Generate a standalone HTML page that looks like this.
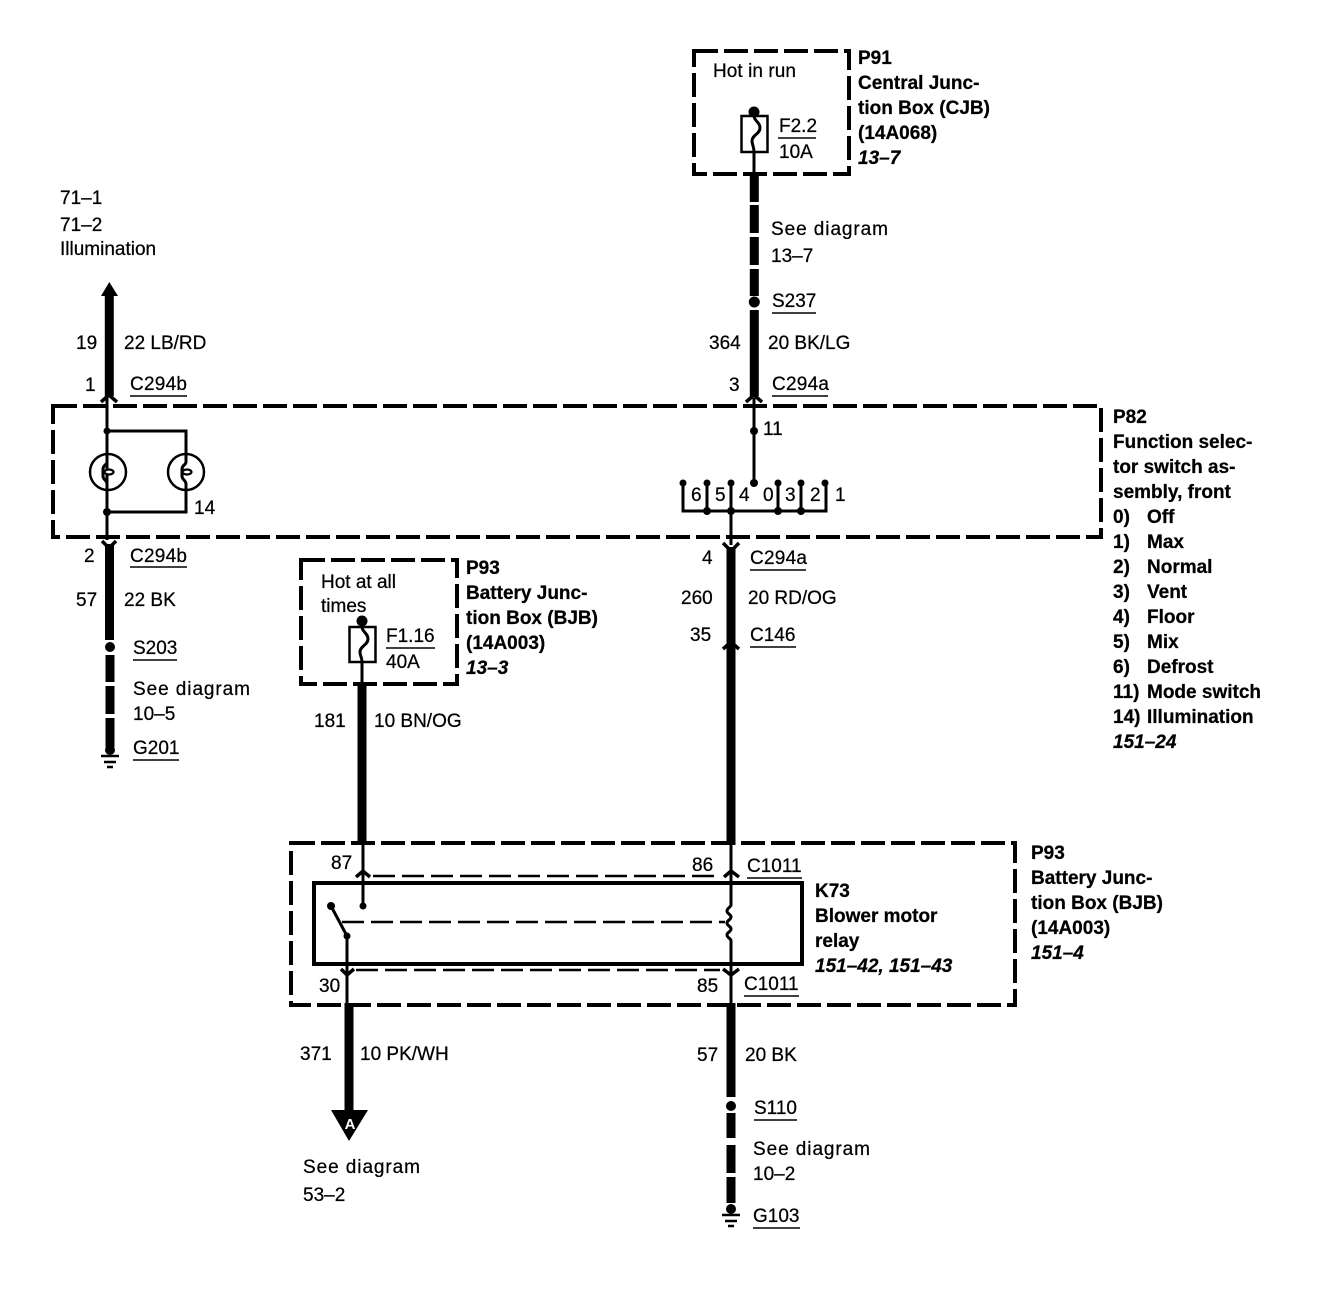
<!DOCTYPE html>
<html><head><meta charset="utf-8"><style>
html,body{margin:0;padding:0;background:#fff}
svg{display:block}
text{font-family:"Liberation Sans",sans-serif;font-size:19px;fill:#000;stroke:#000;stroke-width:.25}
.b text,text.b{font-weight:bold;font-size:19px}
.i{font-style:italic;font-weight:bold;font-size:19px}
.box{fill:none;stroke:#000;stroke-width:4;stroke-dasharray:24 6}
.w{stroke:#000;stroke-width:3;fill:none}
.c{stroke:#000;stroke-width:3.5;fill:none}
.t{stroke:#000;stroke-width:9;fill:none}
.u{stroke:#000;stroke-width:1.5}
.d{stroke:#000;stroke-width:2.5;stroke-dasharray:22 7;fill:none}
</style></head><body>
<svg width="1326" height="1312" viewBox="0 0 1326 1312" xmlns="http://www.w3.org/2000/svg">
<rect width="1326" height="1312" fill="#fff"/>
<!-- boxes -->
<rect class="box" x="694" y="51" width="155" height="123"/>
<rect class="box" x="53" y="406" width="1048" height="131"/>
<rect class="box" x="301" y="560" width="156" height="124"/>
<rect class="box" x="291" y="843" width="724" height="162"/>
<rect x="314" y="883" width="488" height="81" fill="none" stroke="#000" stroke-width="4"/>
<!-- top wire -->
<circle cx="754" cy="112" r="5.5"/>
<rect x="741.5" y="116" width="26" height="36" fill="#fff" stroke="#000" stroke-width="2.5"/>
<path class="w" d="M754 116c0 5 6 6 6 12s-8 7-8 13c0 4 2 5 2 11"/>
<path class="w" d="M754 152V175"/>
<path class="t" d="M754.300 172V202M754.300 205V233M754.300 237V265M754.300 269V296"/>
<circle cx="754.300" cy="302" r="5.500"/>
<path class="t" d="M754.300 310V396"/>
<path class="c" d="M746 402L754 395L762 402"/>
<path class="w" d="M754 398V480"/>
<circle cx="754" cy="431" r="4"/><circle cx="754" cy="483" r="4"/>
<!-- switch -->
<path class="w" d="M683 483V511H826V483M707 483V511M731 483V545M778 483V511M801 483V511"/>
<g><circle cx="683" cy="483" r="3.5"/><circle cx="707" cy="483" r="3.5"/><circle cx="731" cy="483" r="3.5"/><circle cx="778" cy="483" r="3.5"/><circle cx="801" cy="483" r="3.5"/><circle cx="825" cy="483" r="3.5"/><circle cx="707" cy="511" r="4"/><circle cx="731" cy="511" r="4"/><circle cx="778" cy="511" r="4"/><circle cx="801" cy="511" r="4"/></g>
<path class="c" d="M723 543L731 551L739 543"/>
<path class="t" d="M731 547V845"/>
<path class="c" d="M723 649L731 642L739 649"/>
<!-- left wire -->
<path d="M109.300 282L118 296H101Z"/>
<path class="t" d="M109.300 294V396"/>
<path class="c" d="M101 402L109 395L117 402"/>
<path class="w" d="M107 398V540"/>
<path class="w" d="M107 431H186V454M186 490V512H107"/>
<circle cx="107" cy="431" r="3.5"/><circle cx="107" cy="512" r="4"/>
<circle cx="108" cy="472" r="18" fill="none" stroke="#000" stroke-width="2.5"/>
<circle cx="186" cy="472" r="18" fill="none" stroke="#000" stroke-width="2.5"/>
<path class="w" d="M107 454V462c0 3-4 3-4 7v7c0 4 4 4 4 8v6M186 454V462c0 3-4 3-4 7v7c0 4 4 4 4 8v6"/>
<ellipse cx="109" cy="472" rx="4.5" ry="2.5" fill="#fff" stroke="#000" stroke-width="2.2"/>
<ellipse cx="187" cy="472" rx="4.5" ry="2.5" fill="#fff" stroke="#000" stroke-width="2.2"/>
<path class="c" d="M102 541L109 548L116 541"/>
<path class="t" d="M109.500 544V640"/>
<circle cx="110" cy="647" r="5"/>
<path class="t" d="M110 655V682M110 686V714M110 718V747"/>
<circle cx="110" cy="750" r="5"/>
<path stroke="#000" stroke-width="2.5" d="M101 756H119M104 762H116M107 767H113"/>
<!-- P93 fuse -->
<circle cx="362" cy="621" r="5.5"/>
<rect x="349.5" y="627" width="26" height="35" fill="#fff" stroke="#000" stroke-width="2.5"/>
<path class="w" d="M362 627c0 5 6 6 6 12s-8 7-8 13c0 4 2 5 2 10"/>
<path class="w" d="M362 662V685"/>
<path class="t" d="M362 682V845"/>
<!-- relay -->
<path class="w" d="M363 843V906"/>
<circle cx="363" cy="906" r="3.5"/>
<path class="c" d="M356 877L363 871L370 877"/>
<path class="d" d="M373 876H720"/>
<path class="c" d="M724 877L731 871L739 877"/>
<circle cx="331" cy="906" r="4"/>
<path class="w" d="M331 906L347 936"/>
<circle cx="347" cy="936" r="3.5"/>
<path class="w" d="M347 936V1005"/>
<path class="d" d="M342 922H725"/>
<path class="c" d="M341 969L347 975L354 969"/>
<path class="d" d="M356 970H720"/>
<path class="w" d="M731 845V905c0 2-4 3-4 6s4 3 4 6-4 3-4 6 4 3 4 6-4 3-4 6 4 3 4 6V1005"/>
<path class="c" d="M723 969L731 975L739 969"/>
<!-- lower wires -->
<path class="t" d="M349 1003V1112"/>
<path d="M331 1110H368L349 1141Z"/>
<text x="350" y="1129" text-anchor="middle" style="fill:#fff;stroke:none;font-size:15px;font-weight:bold">A</text>
<path class="t" d="M731 1003V1097"/>
<circle cx="731" cy="1106" r="5"/>
<path class="t" d="M731 1113V1138M731 1145V1173M731 1177V1203"/>
<circle cx="731" cy="1209" r="5"/>
<path stroke="#000" stroke-width="2.5" d="M722 1215H740M725 1221H737M728 1226H734"/>
<!-- underlines -->
<path class="u" d="M130 396H187M130 567H187M133 660H177M133 760H179M772 313H816M772 396H828M778 138H816M750 570H806M750 647H796M386 648H435M747 878H802M744 996H799M754 1120H797M753 1228H800"/>
<!-- regular labels -->
<text x="60" y="204">71–1</text><text x="60" y="231">71–2</text><text x="60" y="255">Illumination</text>
<text x="76" y="349">19</text><text x="124" y="349">22 LB/RD</text><text x="85" y="391">1</text><text x="130" y="390" textLength="57">C294b</text>
<text x="194" y="514">14</text><text x="84" y="562">2</text><text x="130" y="562" textLength="57">C294b</text>
<text x="76" y="606">57</text><text x="124" y="606">22 BK</text><text x="133" y="654">S203</text>
<text x="133" y="695" textLength="117">See diagram</text><text x="133" y="720">10–5</text><text x="133" y="754">G201</text>
<text x="713" y="77" textLength="83">Hot in run</text><text x="779" y="132">F2.2</text><text x="779" y="158">10A</text>
<text x="771" y="235" textLength="117">See diagram</text><text x="771" y="262">13–7</text><text x="772" y="307">S237</text>
<text x="709" y="349">364</text><text x="768" y="349">20 BK/LG</text><text x="729" y="391">3</text><text x="772" y="390" textLength="57">C294a</text><text x="763" y="435">11</text>
<text x="691" y="501">6</text><text x="715" y="501">5</text><text x="739" y="501">4</text><text x="763" y="501">0</text><text x="785" y="501">3</text><text x="810" y="501">2</text><text x="835" y="501">1</text>
<text x="702" y="564">4</text><text x="750" y="564" textLength="57">C294a</text><text x="681" y="604">260</text><text x="748" y="604">20 RD/OG</text><text x="690" y="641">35</text><text x="750" y="641">C146</text>
<text x="321" y="588">Hot at all</text><text x="321" y="612">times</text><text x="386" y="642">F1.16</text><text x="386" y="668">40A</text>
<text x="314" y="727">181</text><text x="374" y="727">10 BN/OG</text>
<text x="331" y="869">87</text><text x="692" y="871">86</text><text x="747" y="872">C1011</text><text x="319" y="992">30</text><text x="697" y="992">85</text><text x="744" y="990">C1011</text>
<text x="300" y="1060">371</text><text x="360" y="1060">10 PK/WH</text><text x="697" y="1061">57</text><text x="745" y="1061">20 BK</text>
<text x="754" y="1114">S110</text><text x="753" y="1155" textLength="117">See diagram</text><text x="753" y="1180">10–2</text><text x="753" y="1222">G103</text>
<text x="303" y="1173" textLength="117">See diagram</text><text x="303" y="1201">53–2</text>
<!-- bold labels -->
<g class="b">
<text x="858" y="64">P91</text><text x="858" y="89">Central Junc-</text><text x="858" y="114">tion Box (CJB)</text><text x="858" y="139">(14A068)</text>
<text x="1113" y="423">P82</text><text x="1113" y="448">Function selec-</text><text x="1113" y="473">tor switch as-</text><text x="1113" y="498">sembly, front</text>
<text x="1113" y="523">0)</text><text x="1147" y="523">Off</text>
<text x="1113" y="548">1)</text><text x="1147" y="548">Max</text>
<text x="1113" y="573">2)</text><text x="1147" y="573">Normal</text>
<text x="1113" y="598">3)</text><text x="1147" y="598">Vent</text>
<text x="1113" y="623">4)</text><text x="1147" y="623">Floor</text>
<text x="1113" y="648">5)</text><text x="1147" y="648">Mix</text>
<text x="1113" y="673">6)</text><text x="1147" y="673">Defrost</text>
<text x="1113" y="698">11)</text><text x="1147" y="698">Mode switch</text>
<text x="1113" y="723">14)</text><text x="1147" y="723">Illumination</text>
<text x="466" y="574">P93</text><text x="466" y="599">Battery Junc-</text><text x="466" y="624">tion Box (BJB)</text><text x="466" y="649">(14A003)</text>
<text x="815" y="897">K73</text><text x="815" y="922">Blower motor</text><text x="815" y="947">relay</text>
<text x="1031" y="859">P93</text><text x="1031" y="884">Battery Junc-</text><text x="1031" y="909">tion Box (BJB)</text><text x="1031" y="934">(14A003)</text>
</g>
<text class="i" x="858" y="164">13–7</text>
<text class="i" x="1113" y="748">151–24</text>
<text class="i" x="466" y="674">13–3</text>
<text class="i" x="815" y="972">151–42, 151–43</text>
<text class="i" x="1031" y="959">151–4</text>
</svg>
</body></html>
